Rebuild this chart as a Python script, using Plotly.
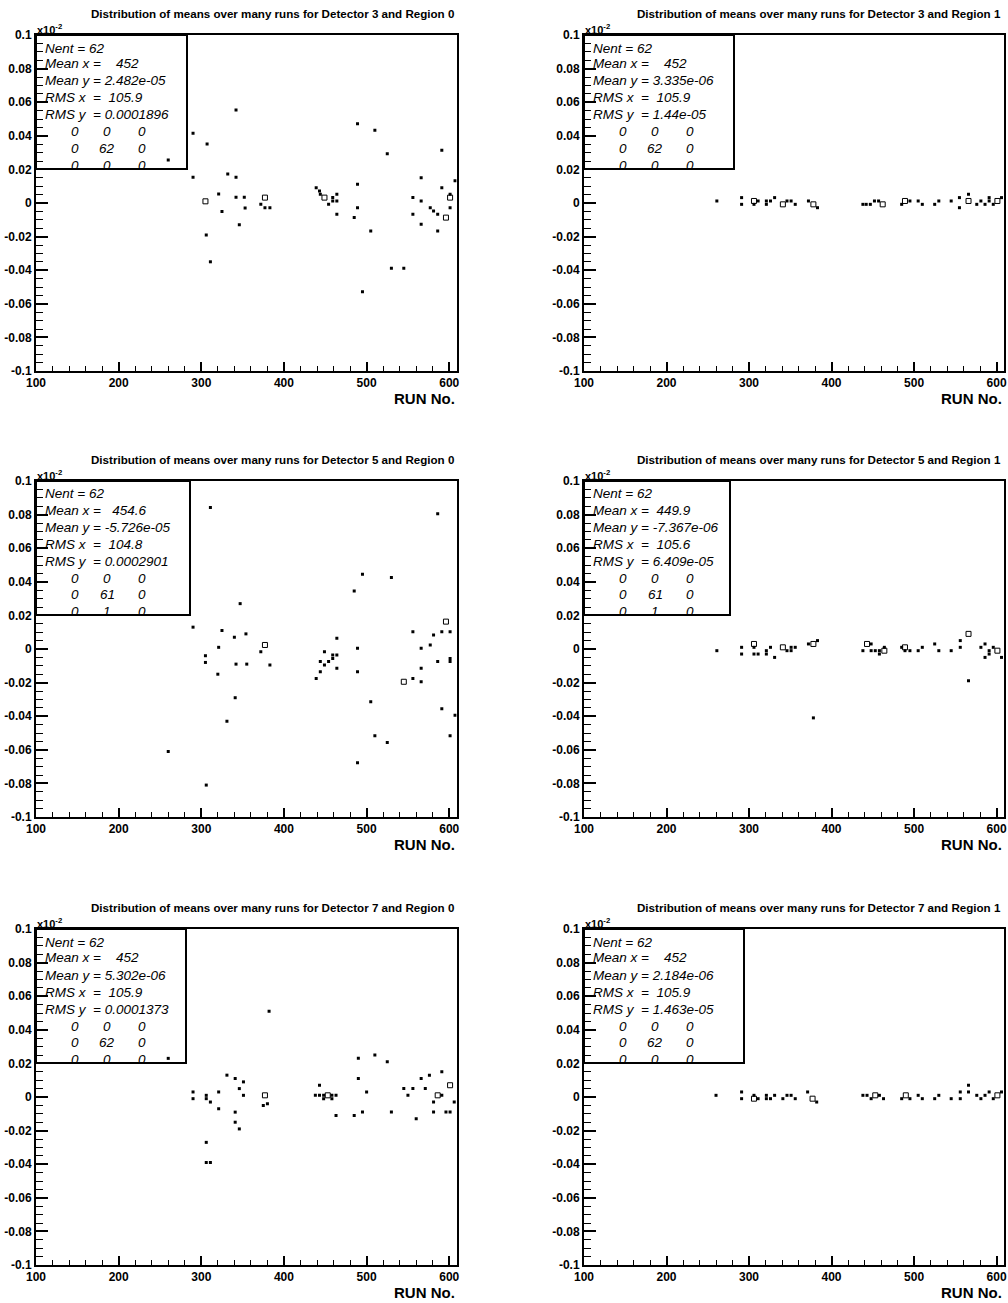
import plotly.graph_objects as go

W, H = 1008, 1303

# ---------------- data (y in units of 10^-2, as labelled on the axes) ----------------
titles = [
    "Distribution of means over many runs for Detector 3 and Region 0",
    "Distribution of means over many runs for Detector 3 and Region 1",
    "Distribution of means over many runs for Detector 5 and Region 0",
    "Distribution of means over many runs for Detector 5 and Region 1",
    "Distribution of means over many runs for Detector 7 and Region 0",
    "Distribution of means over many runs for Detector 7 and Region 1",
]

stats_nent = ["62", "62", "62", "62", "62", "62"]
stats_meanx = ["   452", "   452", "  454.6", " 449.9", "   452", "   452"]
stats_meany = ["2.482e-05", "3.335e-06", "-5.726e-05", "-7.367e-06", "5.302e-06", "2.184e-06"]
stats_rmsx = ["105.9", "105.9", "104.8", "105.6", "105.9", "105.9"]
stats_rmsy = ["0.0001896", "1.44e-05", "0.0002901", "6.409e-05", "0.0001373", "1.463e-05"]
stats_grid = [
    [["0", "0", "0"], ["0", "62", "0"], ["0", "0", "0"]],
    [["0", "0", "0"], ["0", "62", "0"], ["0", "0", "0"]],
    [["0", "0", "0"], ["0", "61", "0"], ["0", "1", "0"]],
    [["0", "0", "0"], ["0", "61", "0"], ["0", "1", "0"]],
    [["0", "0", "0"], ["0", "62", "0"], ["0", "0", "0"]],
    [["0", "0", "0"], ["0", "62", "0"], ["0", "0", "0"]],
]

# Detector 3, Region 0
d3r0_run = [260, 290, 290, 307, 306, 311, 321, 325, 332, 342, 342, 342, 346, 352, 353, 372, 377, 383,
            439, 443, 444, 454, 459, 459, 464, 464, 464, 489, 510, 525, 489, 489, 485, 505, 530, 545,
            495, 591, 566, 591, 607, 556, 566, 601, 577, 581, 586, 601, 556, 566, 586]
d3r0_val = [0.0256, 0.0415, 0.0153, 0.0351, -0.019, -0.035, 0.0054, -0.005, 0.0173, 0.0554, 0.0153, 0.0034,
            -0.013, 0.0034, -0.003, -0.0008, -0.0028, -0.0028, 0.0091, 0.0071, 0.0052, -0.0008, 0.0032, 0.0012,
            0.0052, 0.0012, -0.0067, 0.0472, 0.0433, 0.0293, 0.0111, -0.0028, -0.0087, -0.0167, -0.0389, -0.0389,
            -0.0528, 0.0314, 0.0151, 0.0091, 0.0133, 0.0032, 0.0012, 0.0052, -0.0028, -0.0048, -0.0067, -0.0028,
            -0.0067, -0.0127, -0.0167]
d3r0_run2 = [305, 377, 449, 601, 596]
d3r0_val2 = [0.001, 0.0032, 0.0032, 0.0032, -0.0087]

# Detector 3, Region 1
d3r1_run = [261, 291, 291, 306, 311, 321, 321, 326, 331, 346, 351, 356, 372, 383, 438, 442, 447, 452, 457,
            485, 495, 505, 510, 525, 530, 545, 555, 555, 566, 576, 581, 586, 591, 591, 596, 606]
d3r1_val = [0.0012, 0.0032, -0.0008, -0.0008, 0.0012, 0.0012, -0.0008, 0.0012, 0.0032, 0.0012, 0.0012, -0.0008,
            0.0012, -0.0028, -0.0008, -0.0008, -0.0008, 0.0012, 0.0012, -0.0008, 0.0012, 0.0012, -0.0008, -0.0008,
            0.0012, 0.0012, 0.0032, -0.0028, 0.0052, -0.0008, 0.0012, -0.0008, 0.0012, 0.0032, -0.0008, 0.0032]
d3r1_run2 = [306, 341, 378, 462, 489, 566, 601]
d3r1_val2 = [0.0012, -0.0008, -0.0008, -0.0008, 0.0012, 0.0012, 0.0012]

# Detector 5, Region 0
d5r0_run = [260, 290, 305, 305, 306, 311, 320, 321, 325, 331, 340, 342, 341, 347, 354, 355, 372, 383,
            464, 449, 444, 454, 459, 464, 459, 449, 444, 439, 464, 495, 530, 485, 489, 489, 505, 510,
            525, 489, 586, 591, 601, 581, 556, 577, 566, 586, 601, 601, 566, 556, 566, 591, 607, 601]
d5r0_val = [-0.061, 0.013, -0.004, -0.008, -0.081, 0.0843, -0.015, 0.001, 0.011, -0.043, 0.007, -0.009,
            -0.029, 0.027, 0.009, -0.009, -0.0016, -0.0095, 0.0064, -0.0016, -0.0075, -0.0075, -0.0036, -0.0036,
            -0.0056, -0.0095, -0.0135, -0.0175, -0.0115, 0.0445, 0.0425, 0.0345, 0.0004, -0.0135, -0.0314, -0.0516,
            -0.0556, -0.0677, 0.0805, 0.0103, 0.0103, 0.0083, 0.0103, 0.0024, 0.0004, -0.0075, -0.0056, -0.0075,
            -0.0115, -0.0175, -0.0195, -0.0355, -0.0395, -0.0516]
d5r0_run2 = [377, 596, 545]
d5r0_val2 = [0.0024, 0.0163, -0.0195]

# Detector 5, Region 1
d5r1_run = [261, 291, 291, 306, 306, 311, 321, 321, 326, 331, 346, 351, 351, 356, 372, 383, 378, 438, 448,
            448, 453, 458, 458, 464, 485, 489, 495, 505, 510, 525, 530, 545, 556, 556, 566, 581, 586, 586,
            591, 591, 596, 606]
d5r1_val = [-0.001, 0.001, -0.003, 0.001, -0.003, -0.003, -0.001, -0.003, 0.001, -0.005, -0.001, 0.001,
            -0.001, 0.001, 0.003, 0.005, -0.041, -0.001, 0.003, -0.001, -0.001, -0.003, -0.001, 0.001, 0.001,
            -0.001, -0.001, -0.001, 0.001, 0.003, -0.001, -0.001, 0.005, 0.001, -0.0189, 0.001, 0.003, -0.005,
            -0.003, -0.001, 0.001, -0.005]
d5r1_run2 = [306, 341, 378, 443, 464, 489, 566, 601]
d5r1_val2 = [0.003, 0.001, 0.003, 0.003, -0.001, 0.001, 0.009, -0.001]

# Detector 7, Region 0
d7r0_run = [260, 290, 290, 306, 306, 306, 306, 311, 311, 321, 321, 331, 341, 341, 341, 346, 346, 351, 351,
            375, 380, 382, 438, 443, 443, 448, 448, 458, 458, 463, 463, 485, 490, 490, 495, 500, 510, 525,
            530, 545, 550, 556, 560, 566, 571, 576, 581, 581, 591, 591, 596, 601, 606]
d7r0_val = [0.023, 0.003, -0.001, -0.001, 0.001, -0.027, -0.039, -0.039, -0.003, 0.003, -0.007, 0.013,
            -0.009, -0.015, 0.011, -0.019, 0.005, 0.009, 0.001, -0.005, -0.004, 0.051, 0.001, 0.007, 0.001,
            0.001, -0.001, 0.001, -0.001, -0.011, 0.001, -0.011, 0.023, 0.011, -0.009, 0.003, 0.025, 0.021,
            -0.009, 0.005, 0.001, 0.005, -0.013, 0.011, 0.005, 0.013, -0.003, -0.009, 0.015, 0.001, -0.009,
            -0.009, -0.003]
d7r0_run2 = [377, 453, 586, 601]
d7r0_val2 = [0.001, 0.001, 0.001, 0.007]

# Detector 7, Region 1
d7r1_run = [260, 291, 291, 306, 311, 321, 321, 326, 331, 341, 346, 351, 356, 371, 382, 438, 443, 448, 458,
            463, 485, 495, 505, 510, 525, 530, 545, 556, 556, 566, 566, 576, 581, 586, 591, 596, 606]
d7r1_val = [0.001, 0.003, -0.001, 0.001, -0.001, 0.001, -0.001, -0.001, 0.001, -0.001, 0.001, 0.001, -0.001,
            0.003, -0.003, 0.001, 0.001, -0.001, 0.001, -0.001, -0.001, -0.001, 0.001, -0.001, -0.001, 0.001,
            -0.001, 0.003, -0.001, 0.007, 0.003, 0.001, -0.001, 0.001, 0.003, -0.001, 0.003]
d7r1_run2 = [306, 377, 453, 490, 601]
d7r1_val2 = [-0.001, -0.001, 0.001, 0.001, 0.001]

panels = [
    (d3r0_run, d3r0_val, d3r0_run2, d3r0_val2),
    (d3r1_run, d3r1_val, d3r1_run2, d3r1_val2),
    (d5r0_run, d5r0_val, d5r0_run2, d5r0_val2),
    (d5r1_run, d5r1_val, d5r1_run2, d5r1_val2),
    (d7r0_run, d7r0_val, d7r0_run2, d7r0_val2),
    (d7r1_run, d7r1_val, d7r1_run2, d7r1_val2),
]

x_ticks = [100, 200, 300, 400, 500, 600]
y_ticks = [0.1, 0.08, 0.06, 0.04, 0.02, 0, -0.02, -0.04, -0.06, -0.08, -0.1]
y_ticktext = ["0.1", "0.08", "0.06", "0.04", "0.02", "0", "-0.02", "-0.04", "-0.06", "-0.08", "-0.1"]

# ---------------- layout geometry (pixels) ----------------
col_x = [(36, 456.7), (584, 1004)]
row_y = [(35, 371), (481, 817), (929, 1265)]
box_w = [151, 150, 154, 146, 150, 160]

FONT = "Liberation Sans, Arial, Helvetica, sans-serif"


def px(x):
    return x / W


def py(y):
    return 1 - y / H


fig = go.Figure()
annotations = []
shapes = []

for i, (xr, yr, xr2, yr2) in enumerate(panels):
    r, c = divmod(i, 2)
    x0, x1 = col_x[c]
    y0, y1 = row_y[r]
    n = i + 1
    xa = "x" if n == 1 else f"x{n}"
    ya = "y" if n == 1 else f"y{n}"
    fig.add_trace(go.Scatter(
        x=xr, y=yr, mode="markers", xaxis=xa, yaxis=ya, showlegend=False,
        marker=dict(symbol="square", size=3, color="black", line=dict(width=0)),
        cliponaxis=True,
    ))
    fig.add_trace(go.Scatter(
        x=xr2, y=yr2, mode="markers", xaxis=xa, yaxis=ya, showlegend=False,
        marker=dict(symbol="square-open", size=5, color="black", line=dict(width=1, color="black")),
        cliponaxis=True,
    ))
    axis_common = dict(showgrid=False, zeroline=False, showline=True, linecolor="black", linewidth=2,
                       mirror=True, ticks="inside", tickcolor="black", automargin=False,
                       tickfont=dict(family=FONT, size=12, color="black", weight="bold"))
    fig.layout[("xaxis" if n == 1 else f"xaxis{n}")] = dict(
        domain=[px(x0), px(x1)], range=[100, 609], anchor=ya,
        tickvals=x_ticks, ticklen=9, tickwidth=1.5,
        minor=dict(dtick=20, tick0=100, ticks="inside", ticklen=5, tickcolor="black", tickwidth=1),
        **axis_common)
    fig.layout[("yaxis" if n == 1 else f"yaxis{n}")] = dict(
        domain=[py(y1), py(y0)], range=[-0.1, 0.1], anchor=xa,
        tickvals=y_ticks, ticktext=y_ticktext, ticklen=12, tickwidth=1.5,
        minor=dict(dtick=0.005, tick0=0, ticks="inside", ticklen=7, tickcolor="black", tickwidth=1),
        **axis_common)

    # title
    annotations.append(dict(text=f"<b>{titles[i]}</b>", x=px(x1 - 1), y=py(y0 - 22), xref="paper",
                            yref="paper", xanchor="right", yanchor="middle", showarrow=False,
                            font=dict(family=FONT, size=11.6, color="black")))
    # exponent
    annotations.append(dict(text="<b>x10<sup>-2</sup></b>", x=px(x0 - 1), y=py(y0 - 6), xref="paper",
                            yref="paper", xanchor="left", yanchor="middle", showarrow=False,
                            font=dict(family=FONT, size=11, color="black")))
    # axis title
    annotations.append(dict(text="<b>RUN No.</b>", x=px(x1), y=py(y1 + 27), xref="paper",
                            yref="paper", xanchor="right", yanchor="middle", showarrow=False,
                            font=dict(family=FONT, size=15, color="black")))
    # stats box
    shapes.append(dict(type="rect", xref="paper", yref="paper", x0=px(x0), x1=px(x0 + box_w[i]),
                       y0=py(y0 + 134), y1=py(y0), line=dict(color="black", width=2),
                       fillcolor="rgba(0,0,0,0)", layer="above"))
    nb = "\u00a0"
    lines = [
        f"Nent = {stats_nent[i]}",
        f"Mean x = {stats_meanx[i]}".replace(" ", nb),
        f"Mean y = {stats_meany[i]}",
        f"RMS x  =  {stats_rmsx[i]}".replace(" ", nb),
        f"RMS y  = {stats_rmsy[i]}".replace(" ", nb),
    ]
    offs = [13, 29, 46, 63, 80]
    for t, o in zip(lines, offs):
        annotations.append(dict(text=t, x=px(x0 + 7), y=py(y0 + o), xref="paper", yref="paper",
                                xanchor="left", yanchor="middle", showarrow=False,
                                font=dict(family=FONT, size=13.5, color="black", style="italic")))
    for k, row in enumerate(stats_grid[i]):
        for j, val in enumerate(row):
            annotations.append(dict(text=val, x=px(x0 + [39, 71, 106][j]), y=py(y0 + 97 + 16.5 * k),
                                    xref="paper", yref="paper", xanchor="center", yanchor="middle",
                                    showarrow=False,
                                    font=dict(family=FONT, size=13.5, color="black", style="italic")))

fig.update_layout(width=W, height=H, margin=dict(l=0, r=0, t=0, b=0), paper_bgcolor="white",
                  plot_bgcolor="white", annotations=annotations, shapes=shapes, showlegend=False)

fig.write_html("out.html")
